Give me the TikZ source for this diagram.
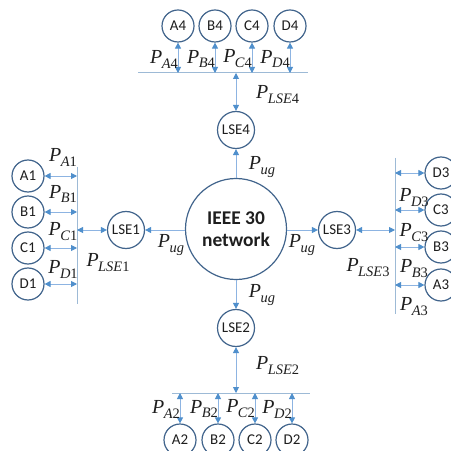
\documentclass[tikz,border=0pt]{standalone}
\usepackage{fontspec}
\setmainfont{Carlito}
\newfontfamily\tms{Liberation Serif}
\usetikzlibrary{arrows.meta}
\definecolor{circ}{HTML}{41648C}
\definecolor{lnc}{HTML}{8DB4E2}
\definecolor{busc}{HTML}{9DBAD6}
\definecolor{tip}{HTML}{4F8FCC}
\definecolor{txt}{HTML}{1E1E1E}
\newcommand{\PP}[2]{{\tms\fontsize{20}{20}\selectfont\itshape P\kern-0.5pt\raisebox{-5pt}{\fontsize{14.5}{14.5}\selectfont #1\upshape #2}}}
\begin{document}
\begin{tikzpicture}[x=1bp,y=-1bp,
  sm/.style={circle,draw=circ,line width=1.2bp,minimum size=32bp,inner sep=0pt,font=\fontsize{15}{15}\selectfont,text=txt},
  lse/.style={circle,draw=circ,line width=1.2bp,minimum size=37bp,inner sep=0pt,font=\fontsize{15}{15}\selectfont,text=txt},
  big/.style={circle,draw=circ,line width=1.2bp,minimum size=101bp,inner sep=0pt,align=center,font=\fontsize{19.5}{22}\selectfont\bfseries,text=txt},
  bus/.style={draw=busc,line width=1bp},
  dbl/.style={draw=lnc,line width=0.9bp,{Triangle[length=6bp,width=6bp,color=tip]}-{Triangle[length=6bp,width=6bp,color=tip]}},
  sgl/.style={draw=lnc,line width=0.9bp,-{Triangle[length=6bp,width=6bp,color=tip]}},
  lab/.style={inner sep=0pt,text=txt}]
\useasboundingbox[fill=white] (0,0) rectangle (451,451);

% central network and LSEs
\node[big] (net) at (236,229) {IEEE 30\\network};
\node[lse] (L4) at (236,130) {LSE4};
\node[lse] (L2) at (236,328) {LSE2};
\node[lse] (L1) at (126,230) {LSE1};
\node[lse] (L3) at (337,230) {LSE3};

\draw[sgl] (net.north) -- (L4.south);
\draw[sgl] (net.south) -- (L2.north);
\draw[sgl] (net.west |- L1.east) -- (L1.east);
\draw[sgl] (net.east |- L3.west) -- (L3.west);

\node[lab] (ug4) at (262,167) {\PP{ug}{}};
\node[lab] (ug2) at (262,295) {\PP{ug}{}};
\node[lab] (ug1) at (171,245) {\PP{ug}{}};
\node[lab] (ug3) at (302,245) {\PP{ug}{}};

% top group
\coordinate (tb1) at (138,73);
\coordinate (tb2) at (308,73);
\draw[bus] (tb1) -- (tb2);
\node[sm] (A4) at (178,26) {A4};
\node[sm] (B4) at (215,26) {B4};
\node[sm] (C4) at (252,26) {C4};
\node[sm] (D4) at (290,26) {D4};
\foreach \n in {A4,B4,C4,D4}{\draw[dbl] (\n.south) -- (\n.south |- tb1);}
\draw[dbl] (L4.north) -- (L4.north |- tb1);
\node[lab,anchor=east] (pa4) at (178,59) {\PP{A}{4}};
\node[lab,anchor=east] (pb4) at (215,59) {\PP{B}{4}};
\node[lab,anchor=east] (pc4) at (252,59) {\PP{C}{4}};
\node[lab,anchor=east] (pd4) at (290,59) {\PP{D}{4}};
\node[lab,anchor=west] (pl4) at (256,95) {\PP{LSE}{4}};

% bottom group
\coordinate (bb1) at (172,393);
\coordinate (bb2) at (310,393);
\draw[bus] (bb1) -- (bb2);
\node[sm] (A2) at (180,440) {A2};
\node[sm] (B2) at (218,440) {B2};
\node[sm] (C2) at (255,440) {C2};
\node[sm] (D2) at (292,440) {D2};
\foreach \n in {A2,B2,C2,D2}{\draw[dbl] (\n.north |- bb1) -- (\n.north);}
\draw[dbl] (L2.south) -- (L2.south |- bb1);
\node[lab,anchor=east] (pa2) at (180,409) {\PP{A}{2}};
\node[lab,anchor=east] (pb2) at (218,409) {\PP{B}{2}};
\node[lab,anchor=east] (pc2) at (255,409) {\PP{C}{2}};
\node[lab,anchor=east] (pd2) at (292,409) {\PP{D}{2}};
\node[lab,anchor=west] (pl2) at (256,366) {\PP{LSE}{2}};

% left group
\coordinate (lb1) at (77,167);
\coordinate (lb2) at (77,304);
\draw[bus] (lb1) -- (lb2);
\node[sm] (A1) at (28,176) {A1};
\node[sm] (B1) at (28,212) {B1};
\node[sm] (C1) at (28,248) {C1};
\node[sm] (D1) at (28,284) {D1};
\foreach \n in {A1,B1,C1,D1}{\draw[dbl] (\n.east) -- (\n.east -| lb1);}
\draw[dbl] (L1.west -| lb1) -- (L1.west);
\node[lab] (pa1) at (63,157) {\PP{A}{1}};
\node[lab] (pb1) at (63,194) {\PP{B}{1}};
\node[lab] (pc1) at (63,232) {\PP{C}{1}};
\node[lab] (pd1) at (63,269) {\PP{D}{1}};
\node[lab] (pl1) at (108,263) {\PP{LSE}{1}};

% right group
\coordinate (rb1) at (395,158);
\coordinate (rb2) at (395,314);
\draw[bus] (rb1) -- (rb2);
\node[sm] (D3) at (441,173) {D3};
\node[sm] (C3) at (441,210) {C3};
\node[sm] (B3) at (441,247) {B3};
\node[sm] (A3) at (441,285) {A3};
\foreach \n in {A3,B3,C3,D3}{\draw[dbl] (\n.west -| rb1) -- (\n.west);}
\draw[dbl] (L3.east) -- (L3.east -| rb1);
\node[lab] (pd3) at (414,198) {\PP{D}{3}};
\node[lab] (pc3) at (414,233) {\PP{C}{3}};
\node[lab] (pb3) at (414,269) {\PP{B}{3}};
\node[lab] (pa3) at (414,307) {\PP{A}{3}};
\node[lab] (pl3) at (368,268) {\PP{LSE}{3}};
\end{tikzpicture}
\end{document}
